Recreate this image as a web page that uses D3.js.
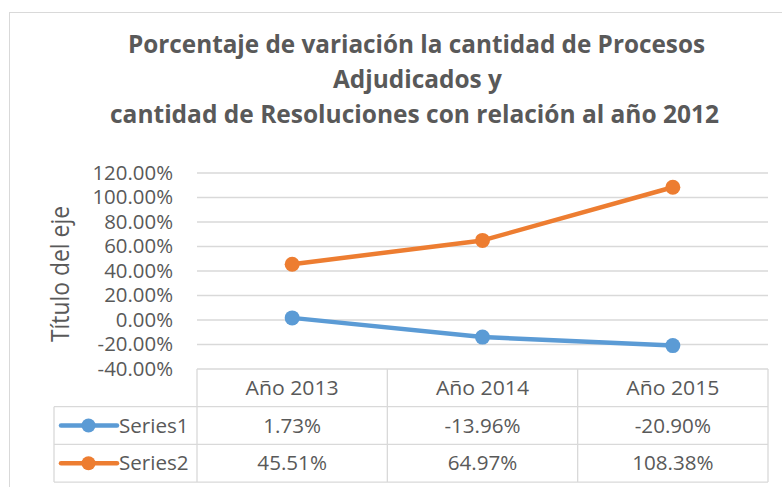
<!DOCTYPE html>
<html lang="es">
<head>
  <meta charset="UTF-8">
  <title>Porcentaje de variación</title>
  <script src="https://d3js.org/d3.v7.min.js"></script>
  <style>
    body { margin: 0; background: #fff; }
    svg { display: block; font-family: "Open Sans", sans-serif; }
    .txt { fill: #595959; }
  </style>
</head>
<body>
  <svg width="782" height="487"></svg>
  <script>
    // chart data
    const categories = ["Año 2013", "Año 2014", "Año 2015"];
    const seriesNames = ["Series1", "Series2"];
    const series1 = [1.73, -13.96, -20.90];
    const series2 = [45.51, 64.97, 108.38];
    const yTicks = [-40, -20, 0, 20, 40, 60, 80, 100, 120];
    const titleLines = [
      "Porcentaje de variación la cantidad de Procesos",
      "Adjudicados y",
      "cantidad de Resoluciones con relación al año 2012"
    ];
    const axisTitle = "Título del eje";
    const colors = ["#5b9bd5", "#ed7d31"];

    const svg = d3.select("svg");
    const gridColor = "#d9d9d9";

    // stretch / squeeze text horizontally (Excel Calibri is rendered wider here)
    function stretch(sel, k) {
      sel.each(function() {
        const L = this.getComputedTextLength();
        this.setAttribute("textLength", L * k);
        this.setAttribute("lengthAdjust", "spacingAndGlyphs");
      });
    }

    // chart frame
    svg.append("rect")
       .attr("x", 9.5).attr("y", 12.5)
       .attr("width", 820).attr("height", 520)
       .attr("fill", "#fff")
       .attr("stroke", gridColor).attr("stroke-width", 1);

    // title
    const titleX = [128, 333, 110];
    const titleW = [577, 169, 609];
    const titleY = [53, 88, 123];
    svg.selectAll(".title")
       .data(titleLines)
       .enter().append("text")
       .attr("class", "title txt")
       .attr("x", (d, i) => titleX[i])
       .attr("y", (d, i) => titleY[i])
       .attr("textLength", (d, i) => titleW[i])
       .attr("lengthAdjust", "spacingAndGlyphs")
       .style("font-size", "25.5px")
       .style("font-weight", "bold")
       .text(d => d);

    // scales
    const x = d3.scaleBand().domain(categories).range([197, 768]);
    const y = d3.scaleLinear().domain([-40, 120]).range([369, 173]);
    const cx = c => x(c) + x.bandwidth() / 2;

    // gridlines
    svg.selectAll(".grid")
       .data(yTicks.filter(t => t > -40))
       .enter().append("line")
       .attr("x1", 197).attr("x2", 768)
       .attr("y1", d => y(d)).attr("y2", d => y(d))
       .attr("stroke", gridColor).attr("stroke-width", 1.3);

    // y axis labels
    const yAxis = svg.append("g")
       .attr("transform", "translate(197,0)")
       .call(d3.axisLeft(y).tickValues(yTicks).tickSize(0).tickPadding(24)
               .tickFormat(d => d.toFixed(2) + "%"));
    yAxis.select(".domain").remove();
    yAxis.selectAll("text")
         .attr("class", "txt")
         .attr("fill", null)
         .style("font-size", "20px")
         .style("font-family", "Open Sans");
    stretch(yAxis.selectAll("text"), 1.02);

    // axis title
    svg.append("text")
       .attr("class", "txt")
       .attr("transform", "translate(69,274) rotate(-90)")
       .attr("text-anchor", "middle")
       .attr("textLength", 136)
       .attr("lengthAdjust", "spacingAndGlyphs")
       .style("font-size", "25px")
       .text(axisTitle);

    // lines + markers
    const allSeries = [series1, series2];
    const line = d3.line().x((d, i) => cx(categories[i])).y(d => y(d));
    allSeries.forEach((vals, s) => {
      svg.append("path")
         .datum(vals)
         .attr("d", line)
         .attr("fill", "none")
         .attr("stroke", colors[s])
         .attr("stroke-width", 4.5)
         .attr("stroke-linejoin", "round");
      svg.selectAll(".pt" + s)
         .data(vals)
         .enter().append("circle")
         .attr("cx", (d, i) => cx(categories[i]))
         .attr("cy", d => y(d))
         .attr("r", 7.5)
         .attr("fill", colors[s]);
    });

    // data table
    const tableTop = y(-40);
    const rowH = 37.7;
    const legendLeft = 54;
    const tbl = svg.append("g");
    const hl = [
      [197, 768, tableTop],
      [legendLeft, 768, tableTop + rowH],
      [legendLeft, 768, tableTop + 2 * rowH],
      [legendLeft, 768, tableTop + 3 * rowH]
    ];
    hl.forEach(h => tbl.append("line")
      .attr("x1", h[0]).attr("x2", h[1]).attr("y1", h[2]).attr("y2", h[2])
      .attr("stroke", gridColor).attr("stroke-width", 1.3));
    tbl.append("line")
       .attr("x1", legendLeft).attr("x2", legendLeft)
       .attr("y1", tableTop + rowH).attr("y2", tableTop + 3 * rowH)
       .attr("stroke", gridColor).attr("stroke-width", 1.3);
    categories.map(c => x(c)).concat([768]).forEach(vx => tbl.append("line")
       .attr("x1", vx).attr("x2", vx)
       .attr("y1", tableTop).attr("y2", tableTop + 3 * rowH)
       .attr("stroke", gridColor).attr("stroke-width", 1.3));

    // header row
    const hdr = tbl.selectAll(".hdr")
       .data(categories)
       .enter().append("text")
       .attr("class", "txt")
       .attr("x", d => cx(d))
       .attr("y", tableTop + rowH / 2)
       .attr("dy", "0.35em")
       .attr("text-anchor", "middle")
       .style("font-size", "20px")
       .text(d => d);
    stretch(hdr, 1.06);

    // series rows
    allSeries.forEach((vals, s) => {
      const ry = tableTop + rowH * (s + 1.5);
      tbl.append("line")
         .attr("x1", 61).attr("x2", 117).attr("y1", ry).attr("y2", ry)
         .attr("stroke", colors[s]).attr("stroke-width", 4.5)
         .attr("stroke-linecap", "round");
      tbl.append("circle")
         .attr("cx", 88.5).attr("cy", ry).attr("r", 7)
         .attr("fill", colors[s]);
      const nm = tbl.append("text")
         .attr("class", "txt")
         .attr("x", 119).attr("y", ry).attr("dy", "0.35em")
         .style("font-size", "20px")
         .text(seriesNames[s]);
      stretch(nm, 1.03);
      const vt = tbl.selectAll(".v" + s)
         .data(vals)
         .enter().append("text")
         .attr("class", "txt")
         .attr("x", (d, i) => cx(categories[i]))
         .attr("y", ry).attr("dy", "0.35em")
         .attr("text-anchor", "middle")
         .style("font-size", "20px")
         .text(d => d.toFixed(2) + "%");
      stretch(vt, 1.03);
    });
  </script>
</body>
</html>
